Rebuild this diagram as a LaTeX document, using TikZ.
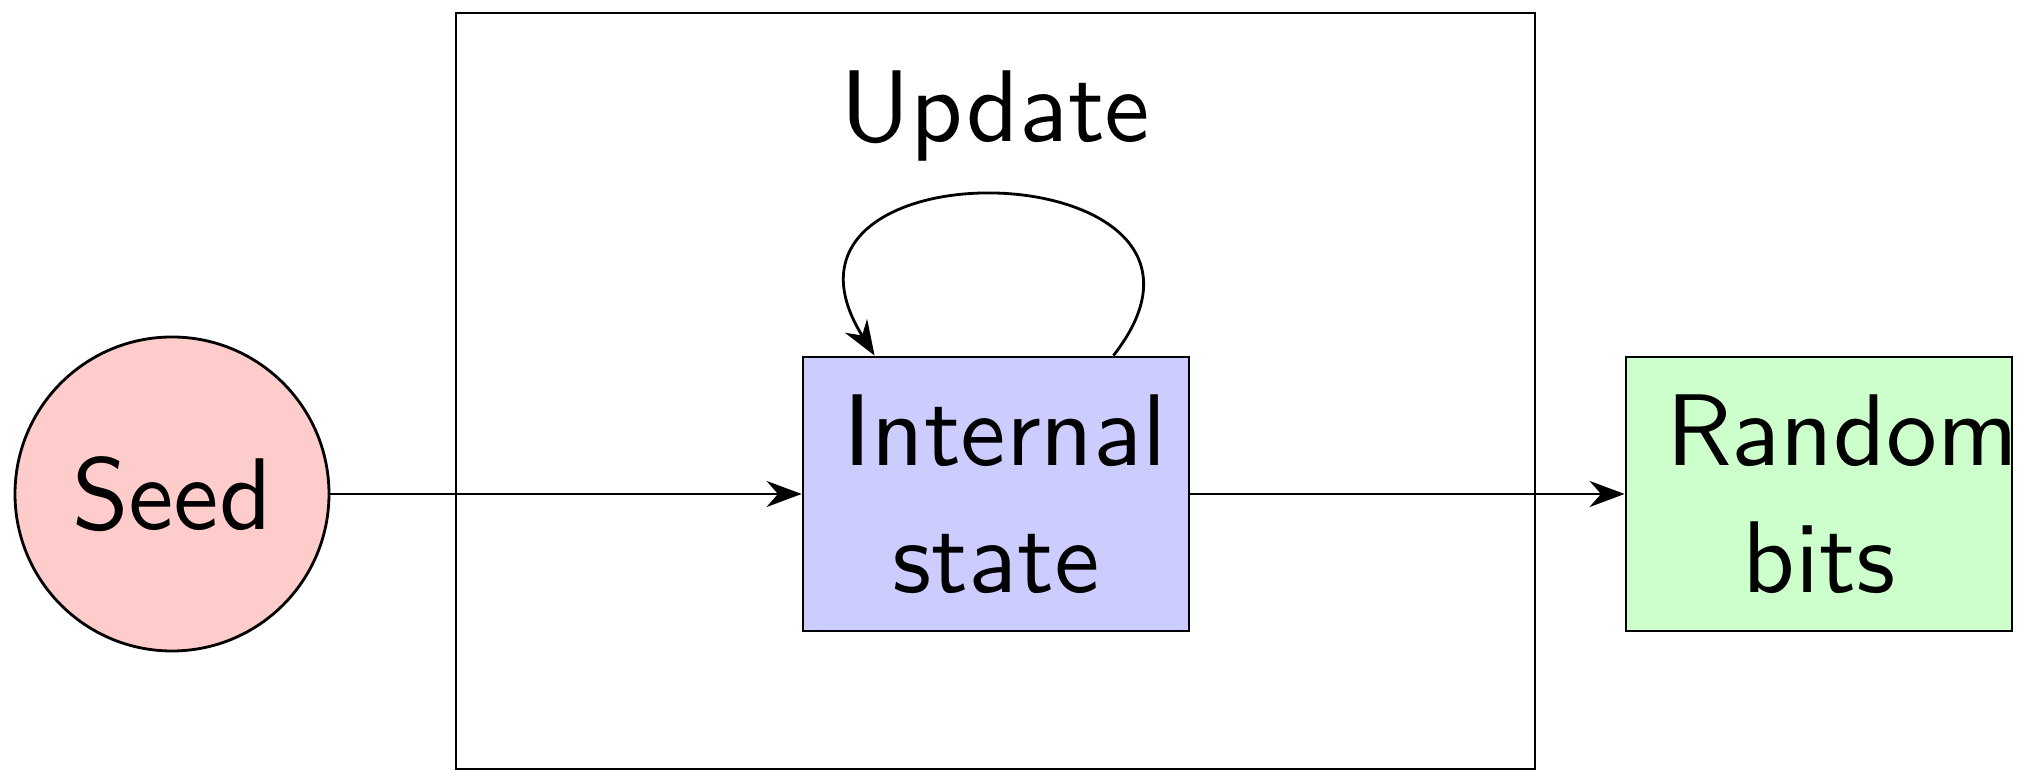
\documentclass[tikz,border=0pt]{standalone}
\usepackage{fontspec}
\newfontfamily\lmsten{lmsans10-regular.otf}
\usetikzlibrary{arrows.meta}
\begin{document}
\begin{tikzpicture}[every node/.style={font=\lmsten\fontsize{29}{36}\selectfont},
  blk/.style={draw,line width=0.8pt,minimum width=3.86cm,minimum height=2.74cm,text width=3.06cm,align=center,inner sep=0pt},
  arr/.style={-{Stealth[length=3.5mm,width=2.6mm]},line width=0.8pt}]
\useasboundingbox (0,0) rectangle (20.33,7.72);
\node[draw,line width=0.8pt,minimum width=10.79cm,minimum height=7.56cm] (upd) at (9.955,3.81) {};
\node[anchor=base] (updlbl) at ([yshift=-1.3cm]upd.north) {Update};
\node[draw,circle,fill=red!20,line width=0.8pt,minimum size=3.14cm,inner sep=0pt] (seed) at (1.72,2.78) {Seed};
\node[blk,fill=blue!20] (state) at (9.96,2.78) {Internal\\state};
\node[blk,fill=green!20] (bits) at (18.19,2.78) {Random\\bits};
% seed into the state, state out to bits
\draw[arr] (seed) -- (state);
\draw[arr] (state) -- (bits);
% update loop
\draw[arr] ([xshift=-0.77cm]state.north east) to[out=52,in=122,looseness=2.8] ([xshift=0.73cm]state.north west);
\end{tikzpicture}
\end{document}
